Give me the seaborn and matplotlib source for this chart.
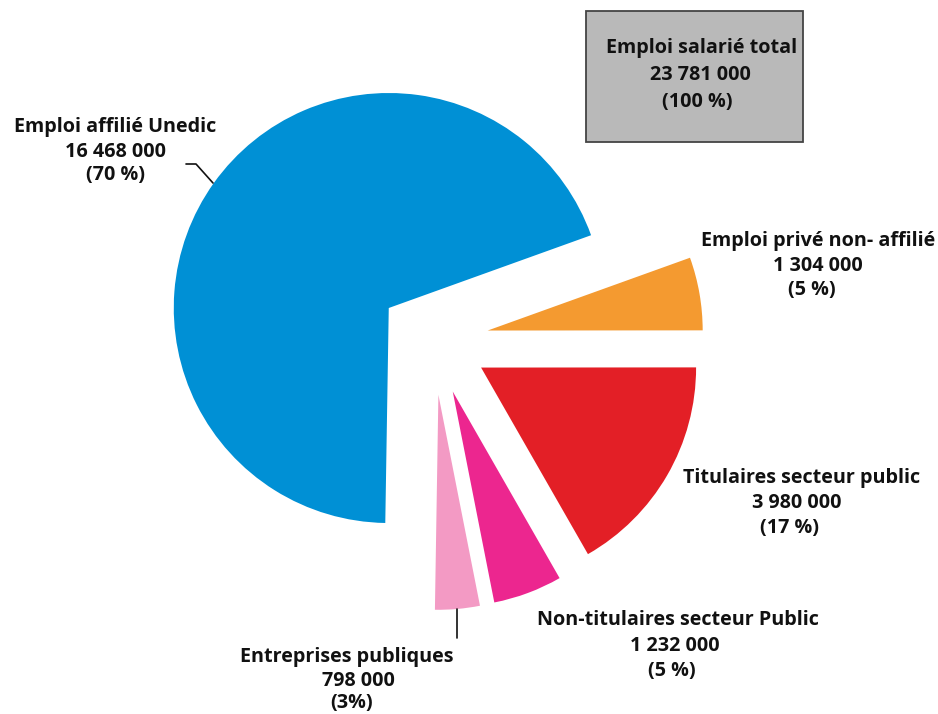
import matplotlib
matplotlib.use("Agg")
import matplotlib.pyplot as plt
import seaborn as sns
from matplotlib.patches import Rectangle

# ---- data ----
categories = ["Emploi affilié Unedic", "Emploi privé non- affilié",
              "Titulaires secteur public", "Non-titulaires secteur Public",
              "Entreprises publiques"]
values = [16468000, 1304000, 3980000, 1232000, 798000]
value_labels = ["16 468 000", "1 304 000", "3 980 000", "1 232 000", "798 000"]
pct_labels = ["(70 %)", "(5 %)", "(17 %)", "(5 %)", "(3%)"]
colors = ["#0090D5", "#F49A30", "#E31F26", "#EC268F", "#F39AC4"]
total_label = ["Emploi salarié total", "23 781 000", "(100 %)"]

sns.set_theme(style="white")
plt.rcParams["font.family"] = ["Open Sans", "DejaVu Sans"]

fig = plt.figure(figsize=(9.38, 7.14), dpi=100)
ax = fig.add_axes([0, 0, 1, 1])

# pie drawn counter-clockwise on screen: red, orange, blue, pink, magenta
order = [2, 1, 0, 4, 3]
ax.pie([values[i] for i in order],
       colors=[colors[i] for i in order],
       explode=[55] * 5,
       radius=215, center=(433.5, 340),
       startangle=60.2, counterclock=False,
       wedgeprops=dict(linewidth=0))

ax.set_xlim(0, 938)
ax.set_ylim(714, 0)
ax.set_aspect("equal")
ax.axis("off")

fs = 14.2
kw = dict(fontsize=fs, fontweight="bold", color="#111111", ha="center", va="center")

# label line positions (pixel centres) for each category: [(x, y) for 3 lines]
label_pos = [
    [(115, 127), (115, 152), (115, 175)],
    [(818, 241), (818, 266), (812, 290)],
    [(802, 478), (797, 503), (790, 528)],
    [(678, 620), (675, 646), (672, 671)],
    [(347, 657), (358, 681), (352, 703)],
]
for i in range(5):
    lines = [categories[i], value_labels[i], pct_labels[i]]
    for (x, y), t in zip(label_pos[i], lines):
        ax.text(x, y, t, **kw)

# total box
ax.add_patch(Rectangle((586, 11), 217, 131, facecolor="#B9B9B9",
                       edgecolor="#444444", linewidth=1.3))
for (x, y), t in zip([(702, 48), (700, 75), (697, 102)], total_label):
    ax.text(x, y, t, **kw)

# leader lines
ax.plot([186, 196, 213], [164, 164, 183], color="#111111", lw=1.2)
ax.plot([457, 457], [609, 638], color="#111111", lw=1.2)

fig.savefig("out.png", dpi=100)
